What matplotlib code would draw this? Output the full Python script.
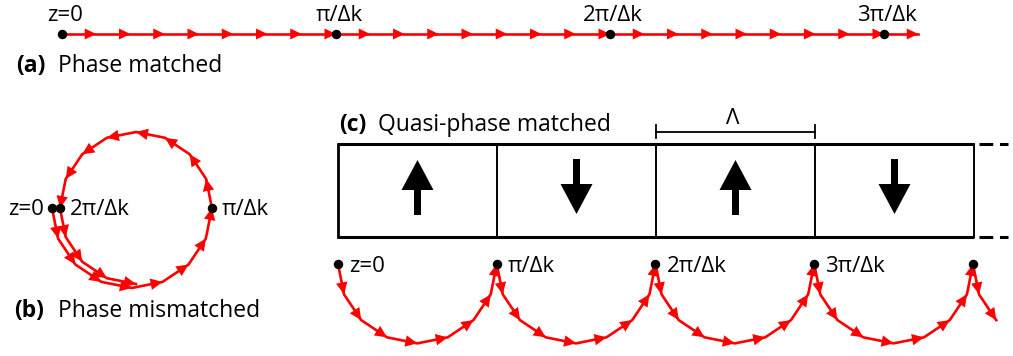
import numpy as np
import matplotlib
matplotlib.use('Agg')
import matplotlib.pyplot as plt
from matplotlib.patches import Polygon

plt.rcParams['font.family'] = ['Open Sans', 'DejaVu Sans']

W, H = 1013, 356
RED = '#ff0000'

# step directions (deg, y pointing down) across one coherence length pi/dk
HALF_LAP = [78.75, 56.25, 33.75, 11.25, -11.25, -33.75, -56.25, -78.75]

# (a) phase matched: every step points the same way
A_ANGLES = [0.0] * 25
A_LENGTHS = [34.25] * 25
A_MARKS = [0, 8, 16, 24]
A_LABELS = ['z=0', 'π/Δk', '2π/Δk', '3π/Δk']

# (b) phase mismatched: the phasor keeps rotating and goes round in a circle
B_ANGLES = HALF_LAP + [a - 180 for a in HALF_LAP] + HALF_LAP[:4]
B_LENGTHS = [31.2] * 8 + [29.65] * 12
B_MARKS = [0, 8, 16]
B_LABELS = ['z=0', 'π/Δk', '2π/Δk']

# (c) quasi-phase matched: domain flip resets the rotation every pi/dk
C_ANGLES = HALF_LAP * 4 + HALF_LAP[:2]
C_LENGTHS = [30.97] * 34
C_MARKS = [0, 8, 16, 24, 32]
C_LABELS = ['z=0', 'π/Δk', '2π/Δk', '3π/Δk', '']

POLING = [1, -1, 1, -1]


def draw_phasor(ax, x0, y0, angles, lengths, head_len=12, head_w=11.5):
    th = np.deg2rad(angles)
    lengths = np.asarray(lengths)
    xs = x0 + np.concatenate([[0], np.cumsum(lengths * np.cos(th))])
    ys = y0 + np.concatenate([[0], np.cumsum(lengths * np.sin(th))])
    ax.plot(xs, ys, color=RED, lw=1.9, solid_joinstyle='round', zorder=2)
    for i, t in enumerate(th):
        u = np.array([np.cos(t), np.sin(t)])
        n = np.array([-u[1], u[0]])
        tip = np.array([xs[i + 1], ys[i + 1]])
        base = tip - head_len * u
        tri = [tip, base + 0.5 * head_w * n, base - 0.5 * head_w * n]
        ax.add_patch(Polygon(tri, closed=True, facecolor=RED, edgecolor='none', zorder=3))
    return xs, ys


fig = plt.figure(figsize=(W / 100, H / 100), dpi=100)
ax = fig.add_axes([0, 0, 1, 1])
ax.set_xlim(0, W)
ax.set_ylim(H, 0)
ax.axis('off')

title_fs = 16.5
label_fs = 16
dot_ms = 5.8

# ---- (a) ----
xs, ys = draw_phasor(ax, 62, 34, A_ANGLES, A_LENGTHS, head_len=11.5, head_w=11)
for m, lab in zip(A_MARKS, A_LABELS):
    ax.plot(xs[m], ys[m], 'o', color='black', ms=dot_ms, zorder=4)
    ax.text(xs[m] + 3, 21, lab, fontsize=label_fs, ha='center', va='baseline')
ax.text(16, 72, '(a)', fontsize=title_fs, fontweight='bold', va='baseline')
ax.text(58, 72, 'Phase matched', fontsize=title_fs, va='baseline')

# ---- (b) ----
xs, ys = draw_phasor(ax, 52, 208, B_ANGLES, B_LENGTHS)
for m, lab in zip(B_MARKS, B_LABELS):
    ax.plot(xs[m], ys[m], 'o', color='black', ms=dot_ms, zorder=4)
    if m == 0:
        ax.text(xs[m] - 8, 215, lab, fontsize=label_fs, ha='right', va='baseline')
    else:
        ax.text(xs[m] + 10, 215, lab, fontsize=label_fs, ha='left', va='baseline')
ax.text(14, 317, '(b)', fontsize=title_fs, fontweight='bold', va='baseline')
ax.text(58, 317, 'Phase mismatched', fontsize=title_fs, va='baseline')

# ---- (c) ----
box_x0, dom_w = 338, 159
box_top, box_bot = 144, 237
n_dom = len(POLING)
box_x1 = box_x0 + n_dom * dom_w
ax.plot([box_x0, box_x1], [box_top, box_top], color='black', lw=2.2, solid_capstyle='butt')
ax.plot([box_x0, box_x1], [box_bot, box_bot], color='black', lw=2.2, solid_capstyle='butt')
ax.plot([box_x0, box_x0], [box_top, box_bot], color='black', lw=2.0)
for k in range(1, n_dom + 1):
    xd = box_x0 + k * dom_w
    ax.plot([xd, xd], [box_top, box_bot], color='black', lw=1.4)
for yl in (box_top, box_bot):
    ax.plot([box_x1 + 5, box_x1 + 34], [yl, yl], color='black', lw=2.2,
            ls=(0, (4.5, 2.2)), solid_capstyle='butt')

for k, p in enumerate(POLING):
    xc = box_x0 + (k + 0.5) * dom_w
    y_start = 215 if p > 0 else 159
    ax.arrow(xc, y_start, 0, -p * 55, width=7, head_width=32, head_length=30,
             length_includes_head=True, color='black', lw=0)

# period bar
lam_x0, lam_x1 = box_x0 + 2 * dom_w, box_x0 + 3 * dom_w
ax.plot([lam_x0, lam_x1], [132, 132], color='black', lw=1.3)
for xe in (lam_x0, lam_x1):
    ax.plot([xe, xe], [125, 138], color='black', lw=1.3)
ax.text(733, 124, 'Λ', fontsize=16, ha='center', va='baseline')

ax.text(339, 131, '(c)', fontsize=title_fs, fontweight='bold', va='baseline')
ax.text(378, 131, 'Quasi-phase matched', fontsize=title_fs, va='baseline')

xs, ys = draw_phasor(ax, 338, 264, C_ANGLES, C_LENGTHS)
for m, lab in zip(C_MARKS, C_LABELS):
    ax.plot(xs[m], ys[m], 'o', color='black', ms=dot_ms, zorder=4)
    if lab:
        ax.text(xs[m] + 11, 272, lab, fontsize=label_fs, ha='left', va='baseline')

fig.savefig('out.png', dpi=100)
